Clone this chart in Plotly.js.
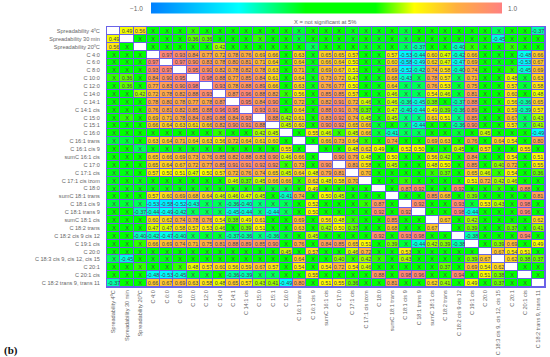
<!DOCTYPE html>
<html>
<head>
<meta charset="utf-8">
<script src="https://cdn.plot.ly/plotly-3.0.1.min.js"></script>
<style>html,body{margin:0;padding:0;background:#fff}#chart{width:550px;height:357px}</style>
</head>
<body>
<div id="chart"></div>
<script>
const labels = ["Spreadability 4ºC","Spreadability 30 min","Spreadability 20ºC","C 4:0","C 6:0","C 8:0","C 10:0","C 12:0","C 14:0","C 14:1","C 14:1 cis","C 15:0","C 15:1","C 16:0","C 16:1 trans","C 16:1 cis 9","sumC 16:1 cis","C 17:0","C 17:1 cis","C 17:1 cis izom","C 18:0","sumC 18:1 trans","C 18:1 cis 9","C 18:1 trans 9","sumC 18:1 cis","C 18:2 trans","C 18:2 cis 9 cis 12","C 19:1 cis","C 20:0","C 18:3 cis 9, cis 12, cis 15","C 20:1","C 20:1 cis","C 18:2 trans 9, trans 11"];
const upper = [
[.49,.56,.05,.05,.05,.32,.05,.05,.05,.05,.05,.05,.05,-.2,.05,.05,.05,-.15,-.15,-.15,.05,-.2,.05,.05,.05,.05,.05,.05,-.25,.05,.05,-.37],
[.05,.05,.05,.05,.36,.36,.05,.05,.05,.32,.05,.05,-.2,.05,.05,.05,-.15,.05,-.15,.05,-.2,.05,.05,.05,.05,.05,.05,-.45,.05,.05,.05],
[.05,.05,.05,.05,.05,.42,.05,.05,.05,.05,.05,.05,-.25,.05,.05,.05,-.15,-.15,.05,-.25,-.37,.05,.05,-.40,.32,.05,.05,.32,.05,.05],
[.97,.93,.84,.77,.72,.78,.76,.69,.66,.05,.63,-.15,.65,.65,.57,.05,-.15,.57,-.53,-.44,.60,.47,-.42,.66,.05,-.15,.05,-.48,.66],
[.97,.90,.83,.78,.80,.81,.71,.64,.05,.64,-.15,.66,.64,.50,.05,-.15,.60,-.58,-.49,.62,.47,-.47,.69,.05,-.15,.05,-.53,.67],
[.95,.90,.82,.78,.82,.78,.63,.05,.71,-.15,.69,.67,.51,.05,-.15,.69,-.52,-.42,.74,.58,-.40,.74,.05,.05,.32,-.45,.69],
[.98,.88,.77,.85,.84,.61,.05,.64,-.15,.73,.72,.47,.05,-.15,.68,-.43,-.25,.78,.57,-.25,.71,.05,.05,.48,-.2,.63],
[.93,.78,.88,.89,.66,.05,.63,-.15,.76,.77,.50,.05,-.15,.64,-.25,-.25,.76,.53,-.2,.75,.05,.05,.57,-.2,.58],
[.87,.96,.88,.82,.32,.56,.05,.85,.85,.57,.25,-.15,.46,-.25,-.25,.54,.46,-.2,.81,.05,.05,.60,.05,.48],
[.95,.84,.90,.05,.72,.05,.82,.91,.72,.46,-.15,.46,-.36,-.45,.38,.25,-.37,.88,.05,.05,.56,-.36,.65],
[.93,.91,.05,.64,.05,.88,.91,.76,.37,-.15,.47,-.40,-.44,.49,.39,-.36,.89,.05,.05,.59,-.39,.57],
[.88,.42,.61,.05,.83,.92,.74,.45,-.15,.45,-.3,-.3,.61,.51,-.3,.85,.05,.05,.67,-.25,.43],
[.45,.60,.05,.90,.92,.65,.66,-.2,.05,-.25,-.44,.05,.05,-.36,.90,.05,.05,.57,-.25,.41],
[.05,.55,.46,.32,.45,.66,-.2,-.41,-.25,-.25,.05,.05,-.2,.05,.45,.05,.05,.05,-.49],
[.05,.66,.73,.64,.32,.05,.74,.05,.05,.69,.63,.05,.76,.05,.64,.54,.05,.80],
[.05,.05,.48,.62,.49,.05,.52,.50,.05,.05,.45,.05,.57,.05,.05,.55,.05],
[.90,.79,.48,.05,.50,.05,.05,.56,.42,.05,.84,.05,.05,.54,.05,.51],
[.81,.58,.05,.45,.05,.05,.48,.50,.05,.85,.05,.40,.72,.05,.55],
[.70,.05,.05,.05,.05,.32,.37,.05,.65,.46,.32,.54,.05,.36],
[.05,.05,.32,.05,.05,.05,.05,.51,.72,.42,.46,.05,.05],
[.05,.87,.92,.05,.05,.92,.05,.05,.32,.05,.88,.05],
[.05,.05,.85,.68,.05,.39,.05,.05,.05,.05,.81],
[.92,.05,.05,.93,-.2,.53,.43,.05,.98,.05],
[.05,.05,.98,-.44,.05,.05,.05,.96,.05],
[.67,.05,.42,.05,.05,.05,.05,.62],
[.05,.39,.05,.05,.37,.05,.41],
[-.38,.05,.05,.05,.94,.05],
[.05,.39,.69,.05,.49],
[.67,.54,.51,.05],
[.62,.38,.37],
[.05,.05],
[.05]
];
const notSignificantMark = "X";
const significanceCut = 0.35;
const colorStops = [[0,"#0080ff"],[0.25,"#00ffff"],[0.44,"#00ff00"],[0.64,"#00ff00"],[0.75,"#ffff00"],[0.87,"#ffb040"],[1,"#ff8080"]];

const n = labels.length;
const z = [], txt = [], diag = [];
for (let i=0;i<n;i++){ z.push(new Array(n).fill(null)); txt.push(new Array(n).fill("")); diag.push(new Array(n).fill(null)); diag[i][i]=1; }
upper.forEach((row,i)=>row.forEach((v,k)=>{
  const j=i+1+k; z[i][j]=v; z[j][i]=v;
  const t=Math.abs(v)<significanceCut?notSignificantMark:v.toFixed(2);
  txt[i][j]=t; txt[j][i]=t;
}));
const gridColor="#6a62e8";
const traces=[
 {type:"heatmap",x:labels,y:labels,z:z,text:txt,texttemplate:"%{text}",textfont:{family:"Liberation Sans, Arial, sans-serif",size:5.5,color:"#444"},
  colorscale:colorStops,zmin:-1,zmax:1,xgap:1,ygap:1,hoverongaps:false,
  colorbar:{orientation:"h",xref:"paper",yref:"paper",x:(326.5-107)/438.5,xanchor:"center",y:1+(27-8)/260,yanchor:"middle",
    lenmode:"pixels",len:351,thicknessmode:"pixels",thickness:11,xpad:0,ypad:0,outlinewidth:0,showticklabels:false,ticks:""}},
 {type:"heatmap",x:labels,y:labels,z:diag,colorscale:[[0,"#ffffff"],[1,"#ffffff"]],showscale:false,xgap:1,ygap:1,hoverongaps:false,zmin:0,zmax:1}
];
const axisFont={family:"Liberation Sans, Arial, sans-serif",size:5.6,color:"#666"};
const layout={
 width:550,height:357,paper_bgcolor:"#fff",plot_bgcolor:gridColor,
 margin:{l:107,r:4.5,t:27,b:70,autoexpand:false},
 font:{family:"Liberation Sans, Arial, sans-serif",color:"#666"},
 xaxis:{type:"category",tickangle:-90,tickfont:axisFont,ticks:"",ticklen:0,showgrid:false,zeroline:false,mirror:true,showline:true,linecolor:gridColor,linewidth:1,automargin:false},
 yaxis:{type:"category",autorange:"reversed",tickfont:axisFont,ticks:"",showgrid:false,zeroline:false,mirror:true,showline:true,linecolor:gridColor,linewidth:1,automargin:false,ticklabelstandoff:5},
 annotations:[
  {text:"−1.0",xref:"paper",yref:"paper",x:(137-107)/438.5,y:1+(27-8)/260,xanchor:"center",yanchor:"middle",showarrow:false,font:{size:6.5,color:"#666"}},
  {text:"1.0",xref:"paper",yref:"paper",x:(513-107)/438.5,y:1+(27-8)/260,xanchor:"center",yanchor:"middle",showarrow:false,font:{size:6.5,color:"#666"}},
  {text:"X = not significant at 5%",xref:"paper",yref:"paper",x:(325-107)/438.5,y:1+(27-22)/260,xanchor:"center",yanchor:"middle",showarrow:false,font:{size:5.8,color:"#666"}},
  {text:"<b>(b)</b>",xref:"paper",yref:"paper",x:(2-107)/438.5,xanchor:"left",yanchor:"middle",y:-(350-287)/260,showarrow:false,font:{family:"Liberation Serif, serif",size:11,color:"#111"}}
 ]
};
Plotly.newPlot("chart",traces,layout,{displayModeBar:false,staticPlot:true});
</script>
</body>
</html>
